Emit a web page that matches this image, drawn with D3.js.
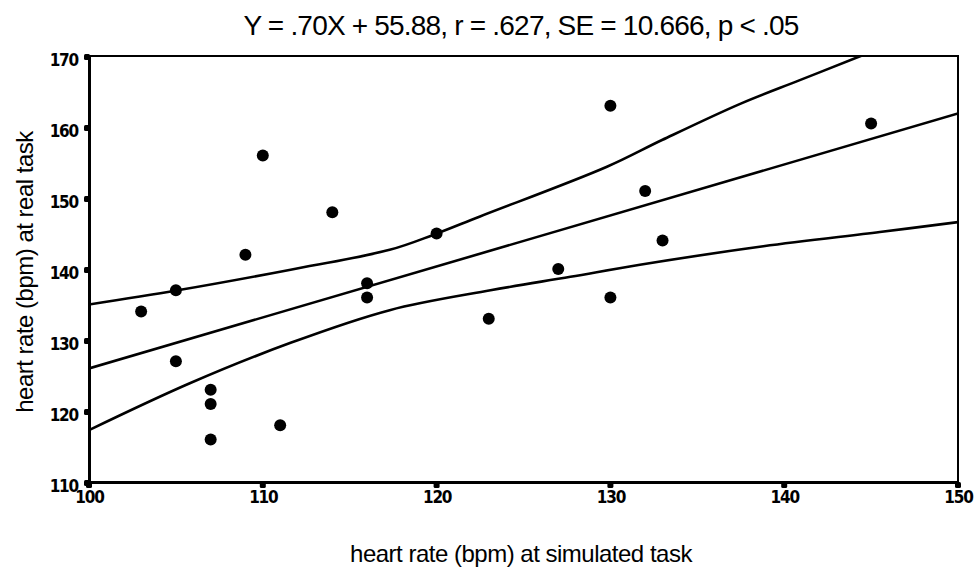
<!DOCTYPE html>
<html>
<head>
<meta charset="utf-8">
<script src="https://cdn.jsdelivr.net/npm/d3@7"></script>
<style>
  body { margin: 0; background: #fff; }
  svg text { fill: #000; }
</style>
</head>
<body>
<script>
var width = 974,
    height = 567;

// simulated task (x) vs real task (y), bpm
var simRate  = [103, 105, 105, 107, 107, 107, 109, 110, 111, 114, 116, 116, 120, 123, 127, 130, 130, 132, 133, 145];
var realRate = [134, 137, 127, 123, 121, 116, 142, 156, 118, 148, 138, 136, 145, 133, 140, 163, 136, 151, 144, 160.5];

// regression line and confidence band
var fitX   = [100, 150];
var fitY   = [126, 161.9];
var upperX = [100, 105.1, 111.6, 117.3, 119.8, 122.5, 129.8, 133, 137.5, 140.9, 144.4, 150];
var upperY = [135, 137, 139.9, 142.7, 144.8, 147.4, 154.4, 158.2, 163.3, 166.6, 170, 175.5];
var lowerX = [100, 105.8, 111.6, 117.3, 123.1, 127.7, 131.7, 138.8, 145.5, 150];
var lowerY = [117.3, 123.9, 129.6, 134.2, 137, 138.9, 140.6, 143.2, 145.2, 146.6];

var xTicks = [100, 110, 120, 130, 140, 150];
var yTicks = [110, 120, 130, 140, 150, 160, 170];

var title  = "Y = .70X + 55.88, r = .627, SE = 10.666, p < .05";
var xTitle = "heart rate (bpm) at simulated task";
var yTitle = "heart rate (bpm) at real task";

var margin = {left: 89, right: 16, top: 56, bottom: 85};

var x = d3.scaleLinear().domain([100, 150]).range([margin.left, width - margin.right]);
var y = d3.scaleLinear().domain([110, 170]).range([height - margin.bottom, margin.top]);

var svg = d3.select("body").append("svg")
    .attr("width", width)
    .attr("height", height);

svg.append("defs").append("clipPath").attr("id", "plot")
    .append("rect")
    .attr("x", x(100)).attr("y", y(170))
    .attr("width", x(150) - x(100)).attr("height", y(110) - y(170));

// frame: top and right
svg.append("path")
    .attr("d", "M" + x(100) + "," + y(170) + "H" + x(150) + "V" + y(110))
    .attr("fill", "none")
    .attr("stroke", "#000")
    .attr("stroke-width", 2);

var line = d3.line().curve(d3.curveCatmullRom);
var g = svg.append("g").attr("clip-path", "url(#plot)");

[[fitX, fitY], [upperX, upperY], [lowerX, lowerY]].forEach(function(s) {
    g.append("path")
        .attr("d", line(s[0].map(function(v, i) { return [x(v), y(s[1][i])]; })))
        .attr("fill", "none")
        .attr("stroke", "#000")
        .attr("stroke-width", 2.6);
});

g.selectAll("circle")
    .data(simRate)
    .enter().append("circle")
    .attr("cx", function(d) { return x(d); })
    .attr("cy", function(d, i) { return y(realRate[i]); })
    .attr("r", 6)
    .attr("fill", "#000");

// axes
var xAxis = d3.axisBottom(x).tickValues(xTicks).tickSize(0).tickPadding(9);
var yAxis = d3.axisLeft(y).tickValues(yTicks).tickSize(0).tickPadding(11);

var tickFont = "'Liberation Sans Narrow', 'DejaVu Sans Condensed', 'Liberation Sans', sans-serif";

function styleTicks(sel) {
    sel.style("font-family", tickFont)
        .style("font-size", "17px")
        .style("font-weight", "bold")
        .style("letter-spacing", "-1.2px");
}

svg.append("g")
    .attr("transform", "translate(0," + y(110) + ")")
    .call(xAxis)
    .call(function(a) { a.select(".domain").attr("stroke-width", 3); })
    .selectAll("text")
    .call(styleTicks);

svg.append("g")
    .attr("transform", "translate(" + x(100) + ",0)")
    .call(yAxis)
    .call(function(a) { a.select(".domain").attr("stroke-width", 3); })
    .selectAll("text")
    .attr("dy", "0.55em")
    .call(styleTicks);

// tick blobs
svg.selectAll(".xblob").data(xTicks).enter().append("rect")
    .attr("x", function(d) { return x(d) - 3; })
    .attr("y", y(110))
    .attr("width", 6).attr("height", 6)
    .attr("rx", 1.5)
    .attr("fill", "#000");
svg.selectAll(".yblob").data(yTicks).enter().append("rect")
    .attr("x", x(100) - 5)
    .attr("y", function(d) { return y(d) - 2; })
    .attr("width", 6).attr("height", 6)
    .attr("rx", 1.5)
    .attr("fill", "#000");

// titles
svg.append("text")
    .attr("x", 521).attr("y", 35)
    .attr("text-anchor", "middle")
    .style("font-family", "'Liberation Sans', Arial, sans-serif")
    .style("font-size", "28px")
    .style("letter-spacing", "-0.8px")
    .text(title);

svg.append("text")
    .attr("x", 521).attr("y", 562)
    .attr("text-anchor", "middle")
    .style("font-family", "'Liberation Sans', Arial, sans-serif")
    .style("font-size", "24px")
    .style("letter-spacing", "-0.5px")
    .text(xTitle);

svg.append("text")
    .attr("transform", "translate(33,272) rotate(-90)")
    .attr("text-anchor", "middle")
    .style("font-family", "'Liberation Sans', Arial, sans-serif")
    .style("font-size", "24px")
    .style("letter-spacing", "-0.5px")
    .text(yTitle);
</script>
</body>
</html>
